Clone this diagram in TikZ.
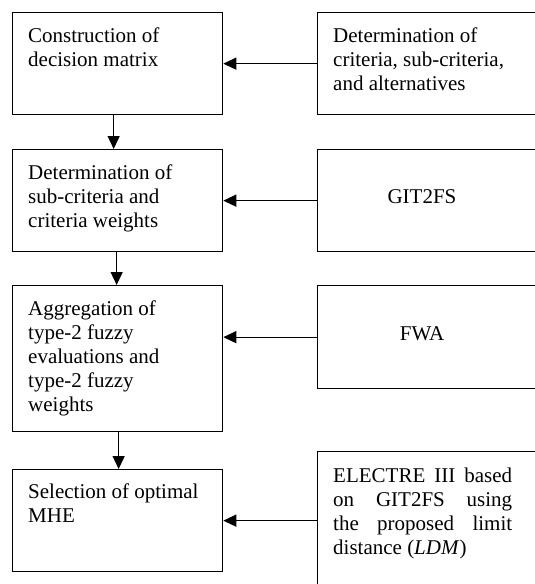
\documentclass[tikz,border=0pt]{standalone}
\usepackage{fontspec}
\setmainfont{Liberation Serif}
\usetikzlibrary{arrows.meta}
\tikzset{
  box/.style={draw=black, line width=1.3pt, rectangle, inner sep=0pt, anchor=north west},
  txt/.style={anchor=base west, inner sep=0pt, font=\fontsize{21}{24}\selectfont},
  ctxt/.style={anchor=base, inner sep=0pt, font=\fontsize{21}{24}\selectfont},
  arr/.style={draw=black, line width=1.3pt, -{Triangle[length=13pt,width=12pt]}}
}
\begin{document}
\begin{tikzpicture}[x=1pt,y=-1pt]
\useasboundingbox (0,0) rectangle (535,584);
\clip (0,0) rectangle (535,584);
% left boxes
\node[box, minimum width=210pt, minimum height=102pt] (L1) at (12,12) {};
\node[box, minimum width=210pt, minimum height=102pt] (L2) at (12,149) {};
\node[box, minimum width=210pt, minimum height=146pt] (L3) at (12,285) {};
\node[box, minimum width=210pt, minimum height=102pt] (L4) at (12,469) {};
% right boxes (cut off by the frame)
\node[box, minimum width=250pt, minimum height=102pt] (R1) at (317,12) {};
\node[box, minimum width=250pt, minimum height=102pt] (R2) at (317,149) {};
\node[box, minimum width=250pt, minimum height=103pt] (R3) at (317,285) {};
\node[box, minimum width=250pt, minimum height=160pt] (R4) at (317,451) {};
% texts
\node[txt] (t11) at (28,42) {Construction of};
\node[txt] (t12) at (28,66) {decision matrix};
\node[txt] (u11) at (333,42) {Determination of};
\node[txt] (u12) at (333,66) {criteria, sub-criteria,};
\node[txt] (u13) at (333,90) {and alternatives};
\node[txt] (t21) at (28,179) {Determination of};
\node[txt] (t22) at (28,203) {sub-criteria and};
\node[txt] (t23) at (28,227) {criteria weights};
\node[ctxt] (u21) at (422,203) {GIT2FS};
\node[txt] (t31) at (28,315) {Aggregation of};
\node[txt] (t32) at (28,339) {type-2 fuzzy};
\node[txt] (t33) at (28,363) {evaluations and};
\node[txt] (t34) at (28,387) {type-2 fuzzy};
\node[txt] (t35) at (28,411) {weights};
\node[ctxt] (u31) at (422,340) {FWA};
\node[txt] (t41) at (28,498) {Selection of optimal};
\node[txt] (t42) at (28,522) {MHE};
\node[txt] (u41) at (333,482) {\makebox[179pt][s]{ELECTRE III based}};
\node[txt] (u42) at (333,506) {\makebox[179pt][s]{on GIT2FS using}};
\node[txt] (u43) at (333,530) {\makebox[179pt][s]{the proposed limit}};
\node[txt] (u44) at (333,554) {distance (\textit{LDM})};
% horizontal arrows
\draw[arr] (R1.west |- L1.center) -- (L1.east);
\draw[arr] (R2.west |- L2.center) -- (L2.east);
\draw[arr] (R3.west) -- (R3.west -| L3.east);
\draw[arr] (R4.west |- L4.center) -- (L4.east);
% vertical arrows
\draw[arr] ([xshift=-4pt]L1.south) -- ([xshift=-4pt]L1.south |- L2.north);
\draw[arr] ([xshift=-1pt]L2.south) -- ([xshift=-1pt]L2.south |- L3.north);
\draw[arr] ([xshift=1pt]L3.south) -- ([xshift=1pt]L3.south |- L4.north);
\end{tikzpicture}
\end{document}
